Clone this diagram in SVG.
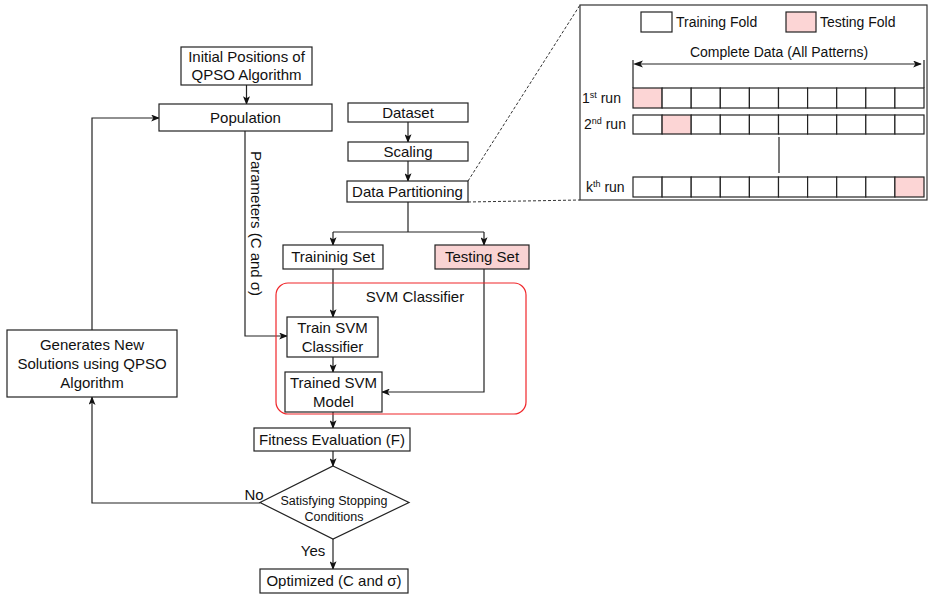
<svg xmlns="http://www.w3.org/2000/svg" width="930" height="594" viewBox="0 0 930 594">
<defs>
<marker id="arr" viewBox="0 0 10 8" refX="9" refY="4" markerWidth="9" markerHeight="7" markerUnits="userSpaceOnUse" orient="auto">
<path d="M0,0 L10,4 L0,8 L2.5,4 z" fill="#111"/>
</marker>
<style>
.box{fill:#fff;stroke:#222;stroke-width:1.2}
.pink{fill:#f9d3d3;stroke:#222;stroke-width:1.2}
.t{font-family:"Liberation Sans",Arial,sans-serif;font-size:15px;fill:#111;text-anchor:middle}
.s{font-family:"Liberation Sans",Arial,sans-serif;font-size:12.5px;fill:#111;text-anchor:middle}
.i{font-family:"Liberation Sans",Arial,sans-serif;font-size:14px;fill:#111}
.c{fill:none;stroke:#222;stroke-width:1.2}
.ca{fill:none;stroke:#222;stroke-width:1.2;marker-end:url(#arr)}
.cell{fill:#fff;stroke:#222;stroke-width:1.2}
.cellp{fill:#fcd5d5;stroke:#222;stroke-width:1.2}
</style>
</defs>
<rect width="930" height="594" fill="#fff"/>

<g id="connectors">
<path class="ca" d="M246.5,85 V104"/>
<path class="ca" d="M245,131 V336 H287"/>
<path class="ca" d="M408,122 V142"/>
<path class="ca" d="M408,161 V181"/>
<path class="c" d="M408,202 V232"/>
<path class="c" d="M333,232 H484"/>
<path class="ca" d="M333,232 V245"/>
<path class="ca" d="M484,232 V245"/>
<path class="ca" d="M333,269 V317"/>
<path class="ca" d="M333,357 V372"/>
<path class="ca" d="M484,269 V392 H382"/>
<path class="ca" d="M333,412 V428"/>
<path class="ca" d="M333,451 V466"/>
<path class="ca" d="M333,539 V569"/>
<path class="ca" d="M260,503 H92 V397"/>
<path class="ca" d="M92,330 V118 H159"/>
<path d="M468,181 L580,5" fill="none" stroke="#333" stroke-width="1" stroke-dasharray="3,2"/>
<path d="M468,202 L580,200" fill="none" stroke="#333" stroke-width="1" stroke-dasharray="3,2"/>
<text class="t" transform="translate(251,223.5) rotate(90)">Parameters (C and σ)</text>
<text class="t" x="254" y="500">No</text>
<text class="t" x="313" y="556">Yes</text>
</g>

<g id="initial">
<rect class="box" x="181" y="47" width="131" height="38"/>
<text class="t" x="246.5" y="62">Initial Positions of</text>
<text class="t" x="246.5" y="80">QPSO Algorithm</text>
</g>
<g id="population">
<rect class="box" x="159" y="104" width="173" height="27"/>
<text class="t" x="245.5" y="123">Population</text>
</g>
<g id="dataset">
<rect class="box" x="348" y="103" width="120" height="19"/>
<text class="t" x="408" y="118">Dataset</text>
</g>
<g id="scaling">
<rect class="box" x="348" y="142" width="120" height="19"/>
<text class="t" x="408" y="157">Scaling</text>
</g>
<g id="partitioning">
<rect class="box" x="347" y="181" width="121" height="21"/>
<text class="t" x="407.5" y="197">Data Partitioning</text>
</g>
<g id="training-set">
<rect class="box" x="283" y="245" width="100" height="24"/>
<text class="t" x="333" y="262">Traininig Set</text>
</g>
<g id="testing-set">
<rect class="pink" x="435" y="245" width="94" height="24"/>
<text class="t" x="482" y="262">Testing Set</text>
</g>
<g id="svm-classifier">
<rect x="276" y="283" width="250" height="131" rx="12" fill="none" stroke="#f0262a" stroke-width="1.2"/>
<text class="t" x="415" y="302">SVM Classifier</text>
</g>
<g id="train-svm">
<rect class="box" x="287" y="317" width="91" height="40"/>
<text class="t" x="332.5" y="333">Train SVM</text>
<text class="t" x="332.5" y="352">Classifier</text>
</g>
<g id="trained-svm">
<rect class="box" x="285" y="372" width="97" height="40"/>
<text class="t" x="333.5" y="388">Trained SVM</text>
<text class="t" x="333.5" y="407">Model</text>
</g>
<g id="fitness">
<rect class="box" x="254" y="428" width="156" height="23"/>
<text class="t" x="332" y="444.5">Fitness Evaluation (F)</text>
</g>
<g id="decision">
<polygon class="box" points="333,466 409,502.5 333,539 260,502.5"/>
<text class="s" x="334" y="504.5">Satisfying Stopping</text>
<text class="s" x="334" y="520.5">Conditions</text>
</g>
<g id="optimized">
<rect class="box" x="260" y="569" width="148" height="24"/>
<text class="t" x="334" y="586">Optimized (C and σ)</text>
</g>
<g id="generates">
<rect class="box" x="7" y="330" width="170" height="67"/>
<text class="t" x="92" y="350">Generates New</text>
<text class="t" x="92" y="369">Solutions using QPSO</text>
<text class="t" x="92" y="388">Algorithm</text>
</g>

<g id="inset">
<rect x="580" y="5" width="347" height="195" fill="#fff" stroke="#333" stroke-width="1.2"/>
<rect class="cell" x="641" y="12" width="31" height="20"/>
<text class="i" x="676" y="27">Training Fold</text>
<rect class="cellp" x="786" y="12" width="30" height="20"/>
<text class="i" x="820" y="27">Testing Fold</text>
<text class="i" x="779" y="57" text-anchor="middle" font-size="14.6">Complete Data (All Patterns)</text>
<path d="M633,60 V88 M924,60 V88" fill="none" stroke="#222" stroke-width="1.2"/>
<path d="M636,64 H921" fill="none" stroke="#222" stroke-width="1.2" marker-end="url(#arr)"/>
<path d="M633,64 L643,60.5 L640.5,64 L643,67.5 z" fill="#111"/>
<text class="i" x="582" y="103">1<tspan font-size="9" dy="-5">st</tspan><tspan dy="5"> run</tspan></text>
<text class="i" x="584" y="129">2<tspan font-size="9" dy="-5">nd</tspan><tspan dy="5"> run</tspan></text>
<text class="i" x="586" y="192">k<tspan font-size="9" dy="-5">th</tspan><tspan dy="5"> run</tspan></text>
<g id="row1">
<rect class="cellp" x="633" y="88" width="29.1" height="20"/>
<rect class="cell" x="662.1" y="88" width="29.1" height="20"/>
<rect class="cell" x="691.2" y="88" width="29.1" height="20"/>
<rect class="cell" x="720.3" y="88" width="29.1" height="20"/>
<rect class="cell" x="749.4" y="88" width="29.1" height="20"/>
<rect class="cell" x="778.5" y="88" width="29.1" height="20"/>
<rect class="cell" x="807.6" y="88" width="29.1" height="20"/>
<rect class="cell" x="836.7" y="88" width="29.1" height="20"/>
<rect class="cell" x="865.8" y="88" width="29.1" height="20"/>
<rect class="cell" x="894.9" y="88" width="29.1" height="20"/>
</g>
<g id="row2">
<rect class="cell" x="633" y="115" width="29.1" height="19"/>
<rect class="cellp" x="662.1" y="115" width="29.1" height="19"/>
<rect class="cell" x="691.2" y="115" width="29.1" height="19"/>
<rect class="cell" x="720.3" y="115" width="29.1" height="19"/>
<rect class="cell" x="749.4" y="115" width="29.1" height="19"/>
<rect class="cell" x="778.5" y="115" width="29.1" height="19"/>
<rect class="cell" x="807.6" y="115" width="29.1" height="19"/>
<rect class="cell" x="836.7" y="115" width="29.1" height="19"/>
<rect class="cell" x="865.8" y="115" width="29.1" height="19"/>
<rect class="cell" x="894.9" y="115" width="29.1" height="19"/>
</g>
<path d="M779,137 V173" fill="none" stroke="#222" stroke-width="1.2"/>
<g id="rowk">
<rect class="cell" x="633" y="177" width="29.1" height="20"/>
<rect class="cell" x="662.1" y="177" width="29.1" height="20"/>
<rect class="cell" x="691.2" y="177" width="29.1" height="20"/>
<rect class="cell" x="720.3" y="177" width="29.1" height="20"/>
<rect class="cell" x="749.4" y="177" width="29.1" height="20"/>
<rect class="cell" x="778.5" y="177" width="29.1" height="20"/>
<rect class="cell" x="807.6" y="177" width="29.1" height="20"/>
<rect class="cell" x="836.7" y="177" width="29.1" height="20"/>
<rect class="cell" x="865.8" y="177" width="29.1" height="20"/>
<rect class="cellp" x="894.9" y="177" width="29.1" height="20"/>
</g>
</g>
</svg>
